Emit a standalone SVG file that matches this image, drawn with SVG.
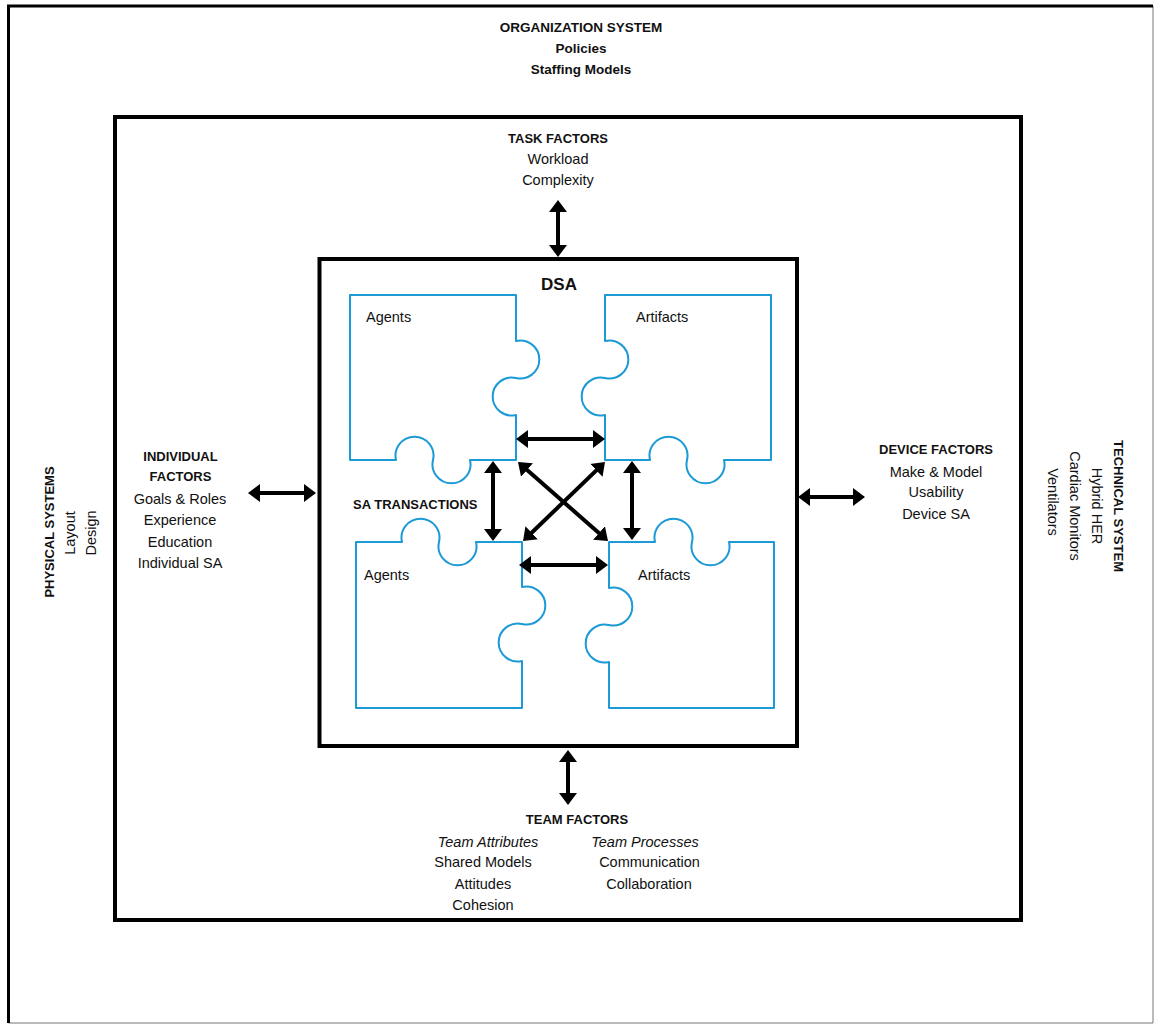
<svg xmlns="http://www.w3.org/2000/svg" width="1155" height="1025" viewBox="0 0 1155 1025">
<style>
  text { font-family: "Liberation Sans", Arial, sans-serif; fill: #111; }
  .b { font-weight: bold; font-size: 13px; }
  .bo { font-weight: bold; font-size: 13.5px; }
  .r { font-size: 14.5px; }
  .i { font-size: 14.5px; font-style: italic; }
  .c { text-anchor: middle; }
  .frame { fill: none; stroke: #000; stroke-width: 4; }
  .piece { fill: #fff; stroke: #1c9ad6; stroke-width: 2; stroke-linejoin: round; }
  .arr { stroke: #000; stroke-width: 4; fill: none; marker-start: url(#ah); marker-end: url(#ah); }
</style>
<defs>
  <marker id="ah" markerUnits="userSpaceOnUse" markerWidth="14" markerHeight="20" viewBox="0 -10 14 20" refX="4" refY="0" orient="auto-start-reverse">
    <path d="M0,-9 L12,0 L0,9 Z" fill="#000"/>
  </marker>
</defs>
<rect width="1155" height="1025" fill="#fff"/>

<g id="organization-system">
  <path d="M1153,1023 H8.5 V6 H1153 Z" fill="none" stroke="#777" stroke-width="1"/>
  <path d="M8.5,1023 V6 H1153" fill="none" stroke="#000" stroke-width="3"/>
  <text class="bo c" x="581" y="32">ORGANIZATION SYSTEM</text>
  <text class="bo c" x="581" y="53">Policies</text>
  <text class="bo c" x="581" y="74">Staffing Models</text>
</g>

<g id="physical-systems">
  <text class="b c" transform="translate(54,532) rotate(-90)">PHYSICAL SYSTEMS</text>
  <text class="r c" transform="translate(75,533) rotate(-90)">Layout</text>
  <text class="r c" transform="translate(96,533) rotate(-90)">Design</text>
</g>

<g id="technical-system">
  <text class="b c" transform="translate(1113.5,506) rotate(90)">TECHNICAL SYSTEM</text>
  <text class="r c" transform="translate(1091.5,506) rotate(90)">Hybrid HER</text>
  <text class="r c" transform="translate(1069.5,506) rotate(90)">Cardiac Monitors</text>
  <text class="r c" transform="translate(1047.5,502) rotate(90)">Ventilators</text>
</g>

<g id="work-system">
  <rect class="frame" x="115" y="117" width="906" height="803"/>
</g>

<g id="task-factors">
  <text class="b c" x="558" y="143">TASK FACTORS</text>
  <text class="r c" x="558" y="164">Workload</text>
  <text class="r c" x="558" y="185">Complexity</text>
</g>

<g id="individual-factors">
  <text class="b c" x="180.5" y="460.5">INDIVIDUAL</text>
  <text class="b c" x="180.5" y="481">FACTORS</text>
  <text class="r c" x="180" y="503.5">Goals &amp; Roles</text>
  <text class="r c" x="180" y="524.5">Experience</text>
  <text class="r c" x="180" y="546.5">Education</text>
  <text class="r c" x="180" y="568">Individual SA</text>
</g>

<g id="device-factors">
  <text class="b c" x="936" y="453.5">DEVICE FACTORS</text>
  <text class="r c" x="936" y="476.5">Make &amp; Model</text>
  <text class="r c" x="936" y="497">Usability</text>
  <text class="r c" x="936" y="518.5">Device SA</text>
</g>

<g id="team-factors">
  <text class="b c" x="577" y="823.5">TEAM FACTORS</text>
  <text class="i c" x="488" y="847">Team Attributes</text>
  <text class="i c" x="645" y="847">Team Processes</text>
  <text class="r c" x="483" y="867">Shared Models</text>
  <text class="r c" x="483" y="888.5">Attitudes</text>
  <text class="r c" x="483" y="909.5">Cohesion</text>
  <text class="r c" x="649.5" y="867">Communication</text>
  <text class="r c" x="649" y="888.5">Collaboration</text>
</g>

<g id="dsa">
  <rect class="frame" x="319.5" y="259" width="477.5" height="487"/>
  <text x="559" y="290" text-anchor="middle" font-weight="bold" font-size="17">DSA</text>
  <text class="b" x="353" y="509">SA TRANSACTIONS</text>
</g>

<g id="agents-top">
  <path class="piece" d="M350,295 H516 V341 A19,19 0 1,1 516,378 A19,19 0 1,0 516,415 V460 H470 A19,19 0 1,1 433,460 A19,19 0 1,0 396,460 H350 Z"/>
  <text class="r" x="366" y="322">Agents</text>
</g>

<g id="artifacts-top">
  <path class="piece" d="M605,295 H771 V460 H724 A19,19 0 1,1 687,460 A19,19 0 1,0 650,460 H605 V415 A19,19 0 1,1 605,378 A19,19 0 1,0 605,341 Z"/>
  <text class="r" x="636" y="322">Artifacts</text>
</g>

<g id="agents-bottom">
  <path class="piece" d="M356,542 H402 A19,19 0 1,1 439,542 A19,19 0 1,0 476,542 H522 V587 A19,19 0 1,1 522,624 A19,19 0 1,0 522,661 V708 H356 Z"/>
  <text class="r" x="364" y="580">Agents</text>
</g>

<g id="artifacts-bottom">
  <path class="piece" d="M609,542 H655 A19,19 0 1,1 692,542 A19,19 0 1,0 729,542 H774 V708 H609 V662 A19,19 0 1,1 609,625 A19,19 0 1,0 609,588 Z"/>
  <text class="r" x="638" y="580">Artifacts</text>
</g>

<g id="connectors">
  <line class="arr" x1="558" y1="208" x2="558" y2="249"/>
  <line class="arr" x1="568" y1="758" x2="568" y2="797"/>
  <line class="arr" x1="256" y1="493" x2="308" y2="493"/>
  <line class="arr" x1="806" y1="497" x2="857" y2="497"/>
  <line class="arr" x1="524" y1="439" x2="597" y2="439"/>
  <line class="arr" x1="527" y1="565" x2="600" y2="565"/>
  <line class="arr" x1="493" y1="469" x2="493" y2="533"/>
  <line class="arr" x1="632" y1="469" x2="632" y2="532"/>
  <line class="arr" x1="524" y1="467.3" x2="602" y2="535.7"/>
  <line class="arr" x1="599.2" y1="467.6" x2="528.8" y2="535.5"/>
</g>
</svg>
